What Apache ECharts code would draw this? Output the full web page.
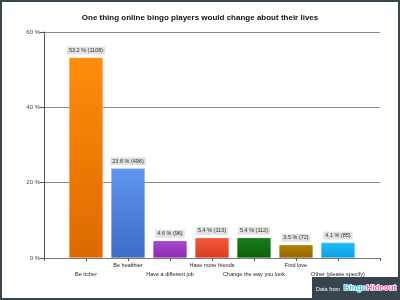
<!DOCTYPE html>
<html>
<head>
<meta charset="utf-8">
<script src="https://cdn.jsdelivr.net/npm/echarts@6/dist/echarts.min.js"></script>
<style>
  html, body { margin: 0; padding: 0; background: #fff; }
  #chart { width: 400px; height: 300px; }
</style>
</head>
<body>
<div id="chart"></div>
<script>
// answers, percentages and counts
var categories = ['Be richer', 'Be healthier', 'Have a different job', 'Have more friends',
                  'Change the way you look', 'Find love', 'Other (please specify)'];
var percents = [53.2, 23.8, 4.6, 5.4, 5.4, 3.5, 4.1];
var counts = [1108, 496, 96, 113, 112, 72, 85];
var yTicks = [0, 20, 40, 60];
var barColors = [
    ['#ff8c0a', '#dd6a00'],
    ['#6094ec', '#3e6cc8'],
    ['#a848cc', '#8c2cb0'],
    ['#f45a3c', '#d83a1c'],
    ['#1a7e1a', '#0a600a'],
    ['#b08200', '#946600'],
    ['#22bcfa', '#0aa0e4']
];

// pad with an empty slot at each end so bars sit on ticks, like the original
var xData = [''].concat(categories, ['']);
var seriesData = ['-'];
percents.forEach(function(p, i) {
    seriesData.push({
        value: p,
        count: counts[i],
        itemStyle: {
            color: new echarts.graphic.LinearGradient(0, 0, 0, 1, [
                { offset: 0, color: barColors[i][0] },
                { offset: 1, color: barColors[i][1] }
            ]),
            borderColor: 'rgba(255,255,255,0.4)',
            borderWidth: 0.5
        }
    });
});
seriesData.push('-');

var chart = echarts.init(document.getElementById('chart'));
chart.setOption({
    animation: false,
    title: {
        text: 'One thing online bingo players would change about their lives',
        left: 'center',
        top: 9,
        textStyle: { fontFamily: 'Liberation Sans', fontSize: 8, fontWeight: 'bold', color: '#111' }
    },
    grid: { left: 44, right: 20, top: 32, bottom: 42 },
    xAxis: {
        type: 'category',
        data: xData,
        boundaryGap: false,
        axisLine: { lineStyle: { color: '#777', width: 1 } },
        axisTick: { show: true, interval: 0, length: 3, lineStyle: { color: '#555' } },
        axisLabel: {
            interval: 0,
            margin: 3,
            fontFamily: 'Liberation Sans',
            fontSize: 5.5,
            color: '#222',
            formatter: function(value, index) {
                return index % 2 === 1 ? '\n' + value : value;
            },
            lineHeight: 9
        },
        splitLine: { show: false }
    },
    yAxis: {
        type: 'value',
        min: yTicks[0],
        max: yTicks[yTicks.length - 1],
        interval: 20,
        axisLine: { show: true, lineStyle: { color: '#555' } },
        axisTick: { show: true, length: 4, lineStyle: { color: '#555' } },
        axisLabel: {
            fontFamily: 'Liberation Sans',
            fontSize: 6,
            color: '#444',
            margin: 4,
            formatter: '{value} %'
        },
        splitLine: { lineStyle: { color: '#888', width: 1 } }
    },
    series: [{
        type: 'bar',
        data: seriesData,
        barWidth: 34,
        label: {
            show: true,
            position: 'top',
            distance: 3,
            fontFamily: 'Liberation Sans',
            fontSize: 5.5,
            color: '#333',
            backgroundColor: '#e2e2e2',
            padding: [1, 2],
            formatter: function(p) {
                return p.value.toFixed(1) + ' % (' + p.data.count + ')';
            }
        }
    }],
    graphic: [
        {
            type: 'rect',
            shape: { x: 1, y: 1, width: 398, height: 298 },
            style: { fill: 'none', stroke: '#37454f', lineWidth: 2 },
            silent: true
        },
        {
            type: 'rect',
            shape: { x: 312, y: 277, width: 88, height: 23 },
            style: { fill: '#37454f' }
        },
        {
            type: 'text',
            left: 316, top: 286,
            style: { text: 'Data from', fill: '#fff', font: '5.5px "Liberation Sans"' }
        },
        {
            type: 'text',
            left: 343, top: 283,
            style: {
                text: '{a|Bingo}{b|Hideout}',
                rich: {
                    a: { fill: '#3cc6f0', stroke: '#fff', lineWidth: 1.5,
                         fontSize: 8, fontWeight: 'bold', fontFamily: 'Liberation Sans' },
                    b: { fill: '#ff5ca8', stroke: '#fff', lineWidth: 1.5,
                         fontSize: 8, fontWeight: 'bold', fontFamily: 'Liberation Sans' }
                }
            }
        }
    ]
});
</script>
</body>
</html>
